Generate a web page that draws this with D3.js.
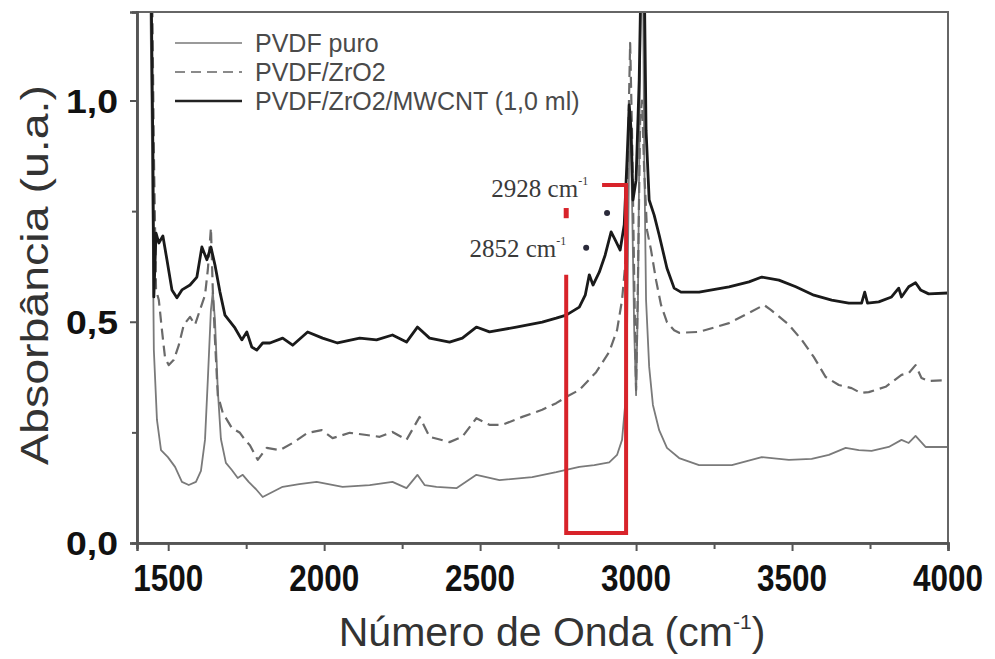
<!DOCTYPE html>
<html><head><meta charset="utf-8">
<script src="https://cdn.jsdelivr.net/npm/d3@7/dist/d3.min.js"></script>
<style>body{margin:0;background:#fff}svg{display:block}</style>
</head><body><svg id="c" width="995" height="659"></svg>
<script>
// ---------- DATA ----------
const seriesNames = ["PVDF puro", "PVDF/ZrO2", "PVDF/ZrO2/MWCNT (1,0 ml)"];

const wnPuro = [1442,1448,1454,1464,1477,1499,1522,1544,1566,1589,1605,1618,1627,1637,1643,1650,1659,1669,1685,1704,1723,1739,1758,1781,1803,1867,1920,1976,2059,2146,2219,2264,2299,2322,2360,2424,2488,2562,2667,2744,2818,2866,2914,2939,2955,2965,2971,2978,2981,2987,2994,3000,3006,3013,3016,3022,3026,3032,3042,3054,3074,3099,3138,3202,3307,3403,3490,3563,3618,3672,3714,3755,3810,3851,3874,3896,3928,4000];
const absPuro = [1.29,0.888,0.436,0.278,0.21,0.194,0.172,0.138,0.131,0.138,0.163,0.233,0.368,0.527,0.567,0.504,0.346,0.235,0.181,0.165,0.147,0.154,0.138,0.122,0.104,0.127,0.133,0.138,0.127,0.131,0.138,0.124,0.154,0.131,0.127,0.124,0.154,0.142,0.149,0.16,0.172,0.176,0.182,0.199,0.233,0.312,0.481,0.888,0.979,0.775,0.481,0.334,0.549,1.09,1.29,1.29,0.888,0.549,0.398,0.312,0.255,0.215,0.192,0.176,0.176,0.194,0.188,0.19,0.199,0.215,0.21,0.208,0.217,0.233,0.226,0.242,0.217,0.217];

const wnZr = [1448,1454,1461,1470,1480,1490,1502,1518,1534,1550,1570,1586,1602,1618,1627,1637,1643,1650,1659,1675,1704,1730,1746,1762,1787,1816,1858,1899,1947,1992,2027,2082,2136,2178,2219,2264,2306,2338,2402,2443,2488,2530,2571,2635,2699,2744,2776,2818,2872,2914,2939,2955,2968,2974,2981,2987,2994,3000,3006,3013,3019,3026,3035,3048,3064,3080,3099,3122,3138,3202,3298,3362,3410,3432,3490,3531,3570,3608,3650,3691,3720,3746,3800,3851,3874,3896,3915,3938,4000];
const absZr = [1.29,0.888,0.572,0.549,0.481,0.418,0.402,0.414,0.447,0.493,0.511,0.493,0.527,0.56,0.617,0.712,0.572,0.459,0.334,0.294,0.26,0.249,0.233,0.221,0.188,0.215,0.21,0.226,0.249,0.255,0.237,0.249,0.244,0.24,0.251,0.233,0.285,0.24,0.228,0.24,0.282,0.267,0.267,0.285,0.301,0.316,0.33,0.346,0.386,0.432,0.481,0.549,0.651,0.888,1.13,0.927,0.594,0.346,0.594,0.956,1.0,0.843,0.707,0.662,0.594,0.538,0.499,0.481,0.475,0.477,0.497,0.52,0.538,0.527,0.493,0.459,0.42,0.375,0.357,0.35,0.339,0.341,0.353,0.38,0.384,0.402,0.373,0.366,0.368];

const wnCnt = [1445,1451,1454,1461,1470,1483,1496,1512,1528,1544,1570,1592,1608,1624,1637,1650,1666,1682,1714,1736,1752,1768,1784,1803,1826,1867,1899,1947,1995,2043,2114,2168,2219,2264,2299,2338,2402,2443,2488,2530,2616,2699,2744,2776,2818,2837,2850,2862,2882,2901,2920,2933,2949,2962,2971,2978,2984,2990,3000,3010,3016,3026,3032,3042,3058,3074,3099,3122,3144,3202,3298,3362,3403,3458,3512,3570,3627,3682,3723,3733,3742,3778,3819,3842,3851,3874,3896,3912,3938,4000];
const absCnt = [1.29,0.89,0.556,0.70,0.678,0.694,0.64,0.572,0.554,0.572,0.583,0.601,0.669,0.64,0.669,0.628,0.567,0.515,0.486,0.459,0.477,0.443,0.436,0.452,0.452,0.463,0.447,0.477,0.463,0.452,0.463,0.459,0.47,0.454,0.488,0.463,0.454,0.463,0.488,0.477,0.488,0.499,0.508,0.515,0.533,0.56,0.606,0.583,0.612,0.651,0.703,0.685,0.662,0.719,0.866,0.99,0.933,0.775,0.82,1.046,1.29,1.29,0.933,0.775,0.741,0.696,0.621,0.576,0.567,0.567,0.579,0.59,0.601,0.594,0.579,0.56,0.549,0.542,0.542,0.567,0.542,0.545,0.556,0.576,0.556,0.579,0.588,0.572,0.563,0.565];

const xTicks = [1500, 2000, 2500, 3000, 3500, 4000];
const xMinorTicks = [1750, 2250, 2750, 3250, 3750];
const yTicks = [0, 0.5, 1.0];
const yTickLabels = ["0,0", "0,5", "1,0"];
const yMinorTicks = [0.25, 0.75];

// annotation (data space)
const peakLabels = ["2928 cm", "2852 cm"];
const peakLabelPos = [[2536, 0.782], [2466, 0.646]];
const peakDots = [[2907, 0.746], [2840, 0.667]];
const boxWn = [2776, 2968];
const boxAbs = [0.0226, 0.809];
const boxTopStart = 2891;
const boxLeftTop = 0.606;
const boxTick = [0.734, 0.757];

// ---------- LAYOUT ----------
const W = 995, H = 659;
const m = {l: 137, r: 47, t: 12, b: 116};
const svg = d3.select("#c");
const x = d3.scaleLinear().domain([1400, 4000]).range([m.l, W - m.r]);
const y = d3.scaleLinear().domain([0, 1.2]).range([H - m.b, m.t]);

svg.append("defs").append("clipPath").attr("id", "clip")
  .append("rect").attr("x", m.l).attr("y", m.t)
  .attr("width", W - m.l - m.r).attr("height", H - m.t - m.b);

const plot = svg.append("g").attr("clip-path", "url(#clip)");
const line = d3.line().x(d => x(d[0])).y(d => y(d[1]));
const zip = (a, b) => a.map((v, i) => [v, b[i]]);

const styles = [
  {stroke: "#7a7a7a", w: 1.8, dash: null},
  {stroke: "#6a6a6a", w: 2.2, dash: "11,6"},
  {stroke: "#1a1a1a", w: 2.8, dash: null}
];
const data = [zip(wnPuro, absPuro), zip(wnZr, absZr), zip(wnCnt, absCnt)];
data.forEach((d, i) => {
  plot.append("path").datum(d).attr("d", line)
    .attr("fill", "none").attr("stroke", styles[i].stroke)
    .attr("stroke-width", styles[i].w)
    .attr("stroke-dasharray", styles[i].dash)
    .attr("stroke-linejoin", "round");
});

// ---------- RED ANNOTATION ----------
const red = "#d8232a";
const ann = svg.append("g").attr("stroke", red).attr("stroke-width", 4).attr("fill", "none");
ann.append("path").attr("d",
  `M${x(boxTopStart)},${y(boxAbs[1])} H${x(boxWn[1])} V${y(boxAbs[0])} H${x(boxWn[0])} V${y(boxLeftTop)}`);
ann.append("path").attr("d", `M${x(boxWn[0])},${y(boxTick[1])} V${y(boxTick[0])}`).attr("stroke-width", 5);

peakLabels.forEach((t, i) => {
  const tx = svg.append("text").attr("x", x(peakLabelPos[i][0])).attr("y", y(peakLabelPos[i][1]))
    .attr("font-family", "'Liberation Serif','Times New Roman',serif")
    .attr("font-size", 25).attr("fill", "#3a3a3a");
  tx.append("tspan").text(t);
  tx.append("tspan").text("-1").attr("font-size", 12).attr("dy", -12);
});
svg.selectAll(".pd").data(peakDots).join("circle")
  .attr("cx", d => x(d[0])).attr("cy", d => y(d[1])).attr("r", 3).attr("fill", "#2a2a3a");

// ---------- AXES / FRAME ----------
const axisColor = "#555";
svg.append("rect").attr("x", m.l).attr("y", m.t)
  .attr("width", W - m.l - m.r).attr("height", H - m.t - m.b)
  .attr("fill", "none").attr("stroke", "#666").attr("stroke-width", 2);

const xAxis = svg.append("g").attr("transform", `translate(0,${H - m.b})`);
xAxis.call(d3.axisBottom(x).tickValues(xTicks).tickSize(8).tickFormat(""));
xAxis.append("g").call(d3.axisBottom(x).tickValues(xMinorTicks).tickSize(6).tickFormat(""));
xAxis.selectAll("path").attr("stroke", axisColor).attr("stroke-width", 2.5);
xAxis.selectAll("line").attr("stroke", axisColor).attr("stroke-width", 2);

const yAxis = svg.append("g").attr("transform", `translate(${m.l},0)`);
yAxis.call(d3.axisLeft(y).tickValues(yTicks).tickSize(7).tickFormat(""));
yAxis.append("g").call(d3.axisLeft(y).tickValues(yMinorTicks).tickSize(5).tickFormat(""));
yAxis.selectAll("path").attr("stroke", axisColor).attr("stroke-width", 2.5);
yAxis.selectAll("line").attr("stroke", axisColor).attr("stroke-width", 2);

const font = "'Liberation Sans', Arial, sans-serif";
svg.selectAll(".xt").data(xTicks).join("text")
  .attr("x", d => x(d)).attr("y", 591).attr("text-anchor", "middle")
  .attr("font-family", font).attr("font-weight", "bold").attr("font-size", 37)
  .attr("textLength", 70).attr("lengthAdjust", "spacingAndGlyphs")
  .attr("fill", "#111").text(d => d);

svg.selectAll(".yt").data(yTicks).join("text")
  .attr("x", 118).attr("y", d => y(d) + 12).attr("text-anchor", "end")
  .attr("font-family", font).attr("font-weight", "bold").attr("font-size", 34)
  .attr("textLength", 52).attr("lengthAdjust", "spacingAndGlyphs")
  .attr("fill", "#111").text((d, i) => yTickLabels[i]);

// axis titles
const xt = svg.append("text").attr("x", 552).attr("y", 646).attr("text-anchor", "middle")
  .attr("font-family", font).attr("font-size", 41).attr("fill", "#333");
xt.append("tspan").text("Número de Onda (cm");
xt.append("tspan").text("-1").attr("font-size", 21).attr("dy", -17);
xt.append("tspan").text(")").attr("dy", 17);

svg.append("text").attr("transform", "translate(48,275) rotate(-90)")
  .attr("text-anchor", "middle").attr("font-family", font).attr("font-size", 38)
  .attr("textLength", 380).attr("lengthAdjust", "spacingAndGlyphs")
  .attr("fill", "#333").text("Absorbância (u.a.)");

// ---------- LEGEND ----------
const legY = [43, 72, 101];
const legStroke = ["#9a9a9a", "#8a8a8a", "#222"];
seriesNames.forEach((n, i) => {
  svg.append("line").attr("x1", 175).attr("x2", 242).attr("y1", legY[i]).attr("y2", legY[i])
    .attr("stroke", legStroke[i]).attr("stroke-width", i === 2 ? 2.6 : 2)
    .attr("stroke-dasharray", i === 1 ? "10,6" : null);
  svg.append("text").attr("x", 255).attr("y", legY[i] + 9)
    .attr("font-family", font).attr("font-size", 25).attr("fill", "#4a4a4a").text(n);
});
</script></body></html>
